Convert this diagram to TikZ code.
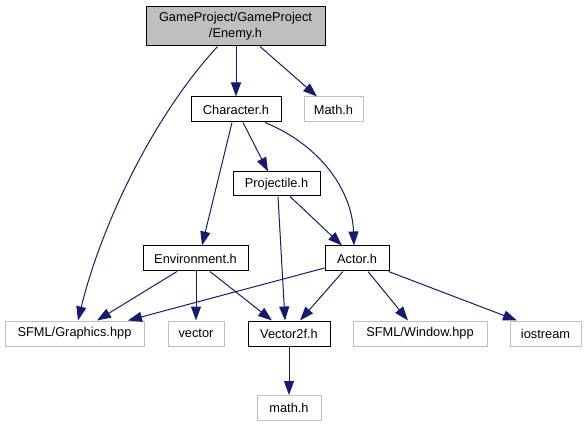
\documentclass[tikz,border=0pt]{standalone}
\usepackage{fontspec}
\setmainfont{Liberation Sans}
\usetikzlibrary{arrows.meta,calc}
\definecolor{edgecol}{HTML}{191970}
\definecolor{graybd}{HTML}{BFBFBF}
\definecolor{mainfill}{HTML}{BFBFBF}
\begin{document}
\begin{tikzpicture}[x=1pt,y=-1pt,
  box/.style={draw=black,line width=1pt,rectangle,inner sep=0pt,minimum height=25pt,font=\fontsize{12.8}{16}\selectfont},
  sysbox/.style={box,draw=graybd},
  mainbox/.style={box,fill=mainfill,draw=black,align=center},
  edge/.style={draw=edgecol,line width=1pt,-{Triangle[length=14pt,width=10pt]}}]
\useasboundingbox (0,0) rectangle (588,427);
% nodes
\node[mainbox,minimum width=179pt,minimum height=39pt] (enemy) at (235.5,26.5) {GameProject/GameProject\\/Enemy.h};
\node[box,minimum width=90pt] (character) at (236,109.5) {Character.h};
\node[sysbox,minimum width=59pt] (mathH) at (333.5,109.5) {Math.h};
\node[box,minimum width=87pt,minimum height=24pt] (projectile) at (276.5,184) {Projectile.h};
\node[box,minimum width=105pt] (environment) at (195.5,258.5) {Environment.h};
\node[box,minimum width=64pt] (actor) at (357,258.5) {Actor.h};
\node[sysbox,minimum width=139pt] (sfmlg) at (74.5,333.5) {SFML/Graphics.hpp};
\node[sysbox,minimum width=56pt] (vector) at (196,333.5) {vector};
\node[box,minimum width=82pt] (vec2f) at (289,333.5) {Vector2f.h};
\node[sysbox,minimum width=134pt] (sfmlw) at (420,333.5) {SFML/Window.hpp};
\node[sysbox,minimum width=71pt] (iostream) at (545.5,333.5) {iostream};
\node[sysbox,minimum width=64pt] (mathl) at (289,408) {math.h};
% edges
\draw[edge] ([xshift=-18pt]enemy.south) .. controls (150,120) and (100,230) .. ([xshift=3.5pt]sfmlg.north);
\draw[edge] ([xshift=0.5pt]enemy.south) -- (character.north);
\draw[edge] ([xshift=24.5pt]enemy.south) -- ([xshift=-16.5pt]mathH.north);
\draw[edge] ([xshift=-4pt]character.south) -- ([xshift=6.5pt]environment.north);
\draw[edge] ([xshift=7pt]character.south) -- ([xshift=-8.5pt]projectile.north);
\draw[edge] ([xshift=29pt]character.south) .. controls (320,145) and (352,190) .. ([xshift=-3pt]actor.north);
\draw[edge] ([xshift=1.5pt]projectile.south) -- ([xshift=-4pt]vec2f.north);
\draw[edge] ([xshift=13.5pt]projectile.south) -- ([xshift=-15pt]actor.north);
\draw[edge] ([xshift=-18.5pt]environment.south) -- ([xshift=22.5pt]sfmlg.north);
\draw[edge] ([xshift=0.5pt]environment.south) -- (vector.north);
\draw[edge] ([xshift=14.5pt]environment.south) -- ([xshift=-17pt]vec2f.north);
\draw[edge] ([yshift=-9.5pt]actor.west) -- ([xshift=53.5pt]sfmlg.north);
\draw[edge] ([xshift=-14pt]actor.south) -- ([xshift=11pt]vec2f.north);
\draw[edge] ([xshift=11pt]actor.south) -- ([xshift=-12pt]sfmlw.north);
\draw[edge] ([xshift=-1pt]actor.south east) -- ([xshift=-28.5pt]iostream.north);
\draw[edge] (vec2f.south) -- (mathl.north);
\end{tikzpicture}
\end{document}
